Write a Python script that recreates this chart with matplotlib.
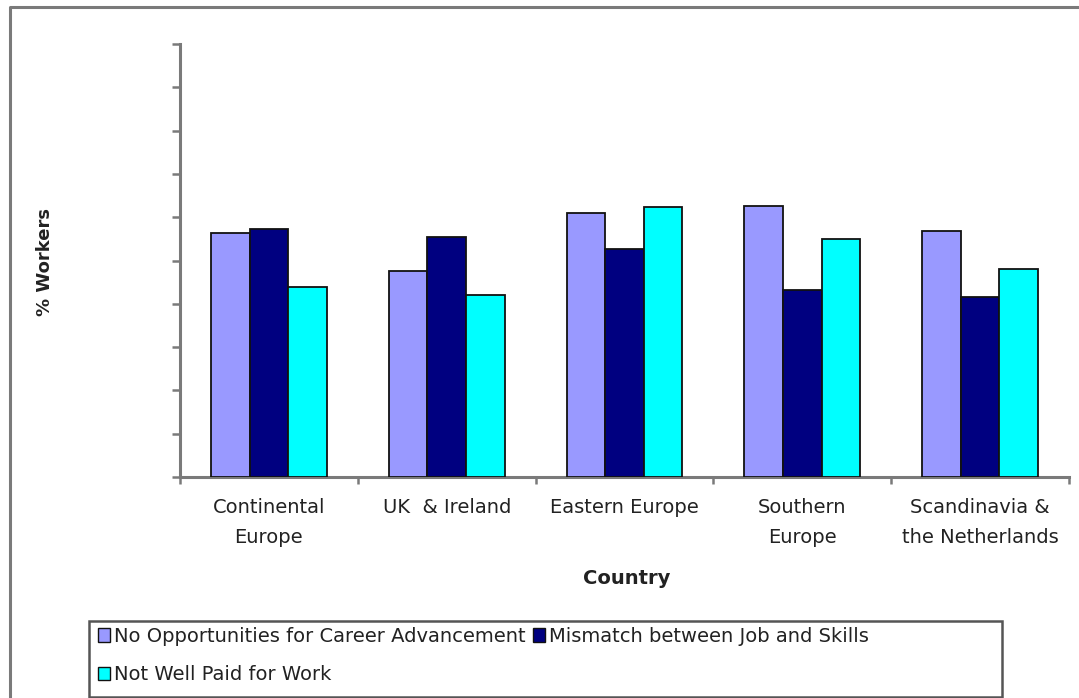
import numpy as np
import matplotlib
matplotlib.use("Agg")
import matplotlib.pyplot as plt
from matplotlib.patches import Rectangle, Patch
from matplotlib.lines import Line2D

plt.rcParams['font.family'] = ['DejaVu Sans']

regions = ["Continental\nEurope", "UK  & Ireland", "Eastern Europe",
           "Southern\nEurope", "Scandinavia &\nthe Netherlands"]
series_names = ["No Opportunities for Career Advancement",
                "Mismatch between Job and Skills",
                "Not Well Paid for Work"]
no_opportunities = [56.3, 47.6, 60.9, 62.7, 56.7]
mismatch = [57.2, 55.4, 52.6, 43.2, 41.6]
not_well_paid = [43.8, 42.0, 62.3, 54.9, 48.0]
colors = ["#9999FF", "#000080", "#00FFFF"]

W, H = 1079, 698
fig = plt.figure(figsize=(W / 100, H / 100), dpi=100)
fig.patch.set_facecolor("white")

# outer chart border (left and top edges visible)
fig.add_artist(Line2D([10 / W, 10 / W, 1.0], [0.0, 1 - 7 / H, 1 - 7 / H],
                      transform=fig.transFigure, color="#7a7a7a", lw=2.2))

ax = fig.add_axes([180 / W, 1 - 477 / H, (1069 - 180) / W, (477 - 44) / H])
x = np.arange(len(regions))
bw = 0.217
for i, vals in enumerate([no_opportunities, mismatch, not_well_paid]):
    ax.bar(x + (i - 1) * bw, vals, width=bw, color=colors[i],
           edgecolor="#111111", linewidth=1.3, label=series_names[i], zorder=3)

ax.set_xlim(-0.5, len(regions) - 0.5)
ax.set_ylim(0, 100)
ax.set_yticks(np.arange(0, 101, 10))
ax.set_yticklabels([])
ax.tick_params(axis="y", direction="out", length=6, width=1.8, color="#7a7a7a")

ax.set_xticks(x)
ax.set_xticklabels(regions, fontsize=14, color="#222222", linespacing=1.75)
ax.tick_params(axis="x", which="major", length=0, pad=15)
ax.set_xticks(np.arange(-0.5, len(regions), 1), minor=True)
ax.tick_params(axis="x", which="minor", direction="out", length=5, width=1.8,
               color="#7a7a7a")

for s in ("top", "right"):
    ax.spines[s].set_visible(False)
for s in ("left", "bottom"):
    ax.spines[s].set_color("#7a7a7a")
    ax.spines[s].set_linewidth(2.2)

fig.text(45 / W, 1 - 262 / H, "% Workers", rotation=90, ha="center", va="center",
         fontsize=13, fontweight="bold", color="#222222")
fig.text(627 / W, 1 - 579 / H, "Country", ha="center", va="center",
         fontsize=14, fontweight="bold", color="#222222")

# legend box
fig.add_artist(Rectangle((89 / W, 1 - 697 / H), (1002 - 89) / W, (697 - 621) / H,
                         transform=fig.transFigure, facecolor="white",
                         edgecolor="#555555", lw=1.8))
handles = [Patch(facecolor=colors[k], edgecolor="#111111", lw=1.0) for k in range(3)]
order = [0, 2, 1]
leg = fig.legend([handles[k] for k in order], [series_names[k] for k in order],
                 loc="upper left", bbox_to_anchor=(98 / W, 1 - 627 / H),
                 ncol=2, frameon=False, fontsize=14, handlelength=0.6,
                 handleheight=0.7, handletextpad=0.2, columnspacing=0.4,
                 labelspacing=1.0, borderpad=0.0, borderaxespad=0)
for t in leg.get_texts():
    t.set_color("#222222")

fig.savefig("out.png", dpi=100, facecolor="white")
